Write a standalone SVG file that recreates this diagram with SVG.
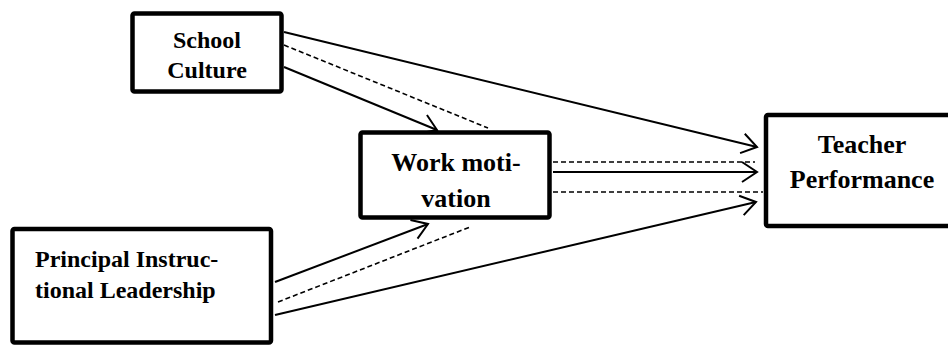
<svg xmlns="http://www.w3.org/2000/svg" width="948" height="347" viewBox="0 0 948 347">
<defs>
<style>
.box{fill:#fff;stroke:#000;stroke-width:4.5;stroke-linejoin:round}
.t{font-family:"Liberation Serif","Times New Roman",serif;font-weight:bold;fill:#000}
.s{fill:none;stroke:#000;stroke-width:2}
.d{fill:none;stroke:#000;stroke-width:1.6;stroke-dasharray:5,3}
</style>
<marker id="ah" markerUnits="userSpaceOnUse" markerWidth="30" markerHeight="30" refX="0" refY="0" viewBox="-20 -15 30 30" orient="auto" overflow="visible">
<path d="M-15,-10 L0,0 L-15,10" fill="none" stroke="#000" stroke-width="2"/>
</marker>
</defs>
<rect width="948" height="347" fill="#fff"/>
<g id="connectors">
<line class="s" x1="284" y1="32" x2="757" y2="147" marker-end="url(#ah)"/>
<line class="d" x1="284" y1="45" x2="488" y2="128"/>
<line class="s" x1="284" y1="67" x2="437" y2="130" marker-end="url(#ah)"/>
<line class="s" x1="275" y1="282" x2="428" y2="224" marker-end="url(#ah)"/>
<line class="d" x1="278" y1="302" x2="470" y2="227"/>
<line class="s" x1="275" y1="315" x2="756" y2="202" marker-end="url(#ah)"/>
<line class="d" x1="553" y1="162" x2="755" y2="162"/>
<line class="s" x1="553" y1="172" x2="757" y2="172" marker-end="url(#ah)"/>
<line class="d" x1="553" y1="192" x2="763" y2="192"/>
</g>
<g id="school-culture">
<rect class="box" x="132.5" y="13.5" width="149" height="78" rx="2"/>
<text class="t" font-size="24" text-anchor="middle"><tspan x="207" y="48">School</tspan><tspan x="207" y="78">Culture</tspan></text>
</g>
<g id="work-motivation">
<rect class="box" x="360.5" y="132.5" width="189" height="85" rx="2"/>
<text class="t" font-size="26" text-anchor="middle"><tspan x="456" y="171">Work moti-</tspan><tspan x="456" y="207">vation</tspan></text>
</g>
<g id="principal-leadership">
<rect class="box" x="12.5" y="229" width="258.5" height="113.5" rx="2"/>
<text class="t" font-size="24"><tspan x="35" y="267">Principal Instruc-</tspan><tspan x="35" y="298">tional Leadership</tspan></text>
</g>
<g id="teacher-performance">
<rect class="box" x="766" y="115" width="200" height="111" rx="2"/>
<text class="t" font-size="26" text-anchor="middle"><tspan x="862" y="153">Teacher</tspan><tspan x="862" y="188">Performance</tspan></text>
</g>
</svg>
